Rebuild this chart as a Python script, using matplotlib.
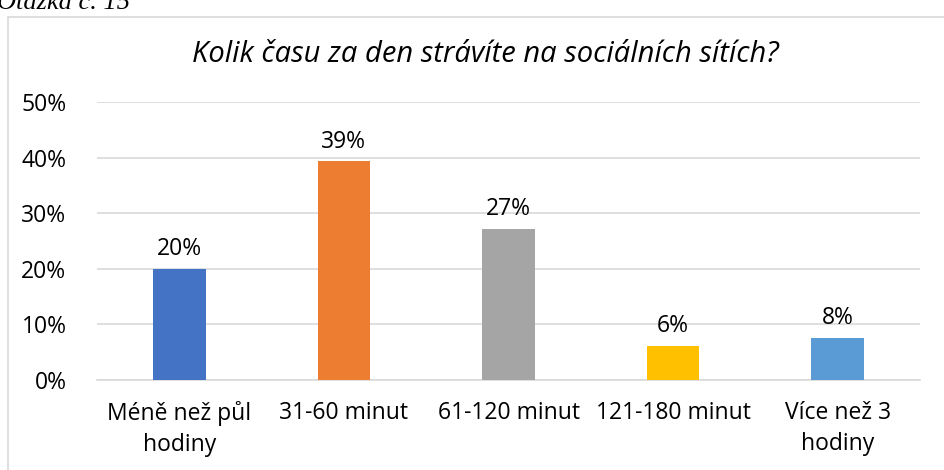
import matplotlib

matplotlib.use("Agg")
import matplotlib.pyplot as plt
from matplotlib.patches import Rectangle
from matplotlib.ticker import PercentFormatter
import numpy as np

categories = ["Méně než půl\nhodiny", "31-60 minut", "61-120 minut", "121-180 minut", "Více než 3\nhodiny"]
shares = [0.20, 0.393, 0.272, 0.061, 0.076]
bar_labels = ["20%", "39%", "27%", "6%", "8%"]
colors = ["#4472c4", "#ed7d31", "#a5a5a5", "#ffc000", "#5b9bd5"]

plt.rcParams["font.family"] = ["Open Sans", "DejaVu Sans"]

fig = plt.figure(figsize=(9.44, 4.70), dpi=100)

# chart border (cut off at right/bottom like the screenshot)
fig.patches.append(Rectangle((8 / 944, -0.05), 1.0, 1 - 17 / 470 + 0.05,
                             transform=fig.transFigure, fill=False,
                             edgecolor="#d9d9d9", linewidth=1.2))
fig.text(-0.003, 1 - 3 / 470, "Otázka č. 15", family="Liberation Serif", style="italic",
         fontsize=19, va="center", ha="left")

ax = fig.add_axes([97 / 944, 1 - 380 / 470, (920 - 97) / 944, (380 - 102) / 470])
x = np.arange(len(categories))
bars = ax.bar(x, shares, width=0.32, color=colors, zorder=3)
for rect, lab in zip(bars, bar_labels):
    ax.text(rect.get_x() + rect.get_width() / 2, rect.get_height() + 0.014, lab,
            ha="center", va="bottom", fontsize=16.5, color="#000000")

ax.set_xlim(-0.5, len(categories) - 0.5)
ax.set_ylim(0, 0.5)
ax.set_yticks(np.arange(0, 0.51, 0.1))
ax.yaxis.set_major_formatter(PercentFormatter(1.0, decimals=0))
ax.set_xticks(x)
ax.set_xticklabels(categories, fontsize=16.5, linespacing=1.4)
ax.tick_params(axis="y", labelsize=16.5, length=0, pad=22)
ax.tick_params(axis="x", length=0, pad=15)
ax.grid(axis="y", color="#d9d9d9", linewidth=1.2, zorder=0)
for s in ["top", "right", "left"]:
    ax.spines[s].set_visible(False)
ax.spines["bottom"].set_color("#d9d9d9")
ax.spines["bottom"].set_linewidth(1.2)

fig.text(485 / 944, 1 - 55 / 470, "Kolik času za den strávíte na sociálních sítích?",
         style="italic", fontsize=21, ha="center", va="center", color="#000000")

fig.savefig("out.png", dpi=100)
